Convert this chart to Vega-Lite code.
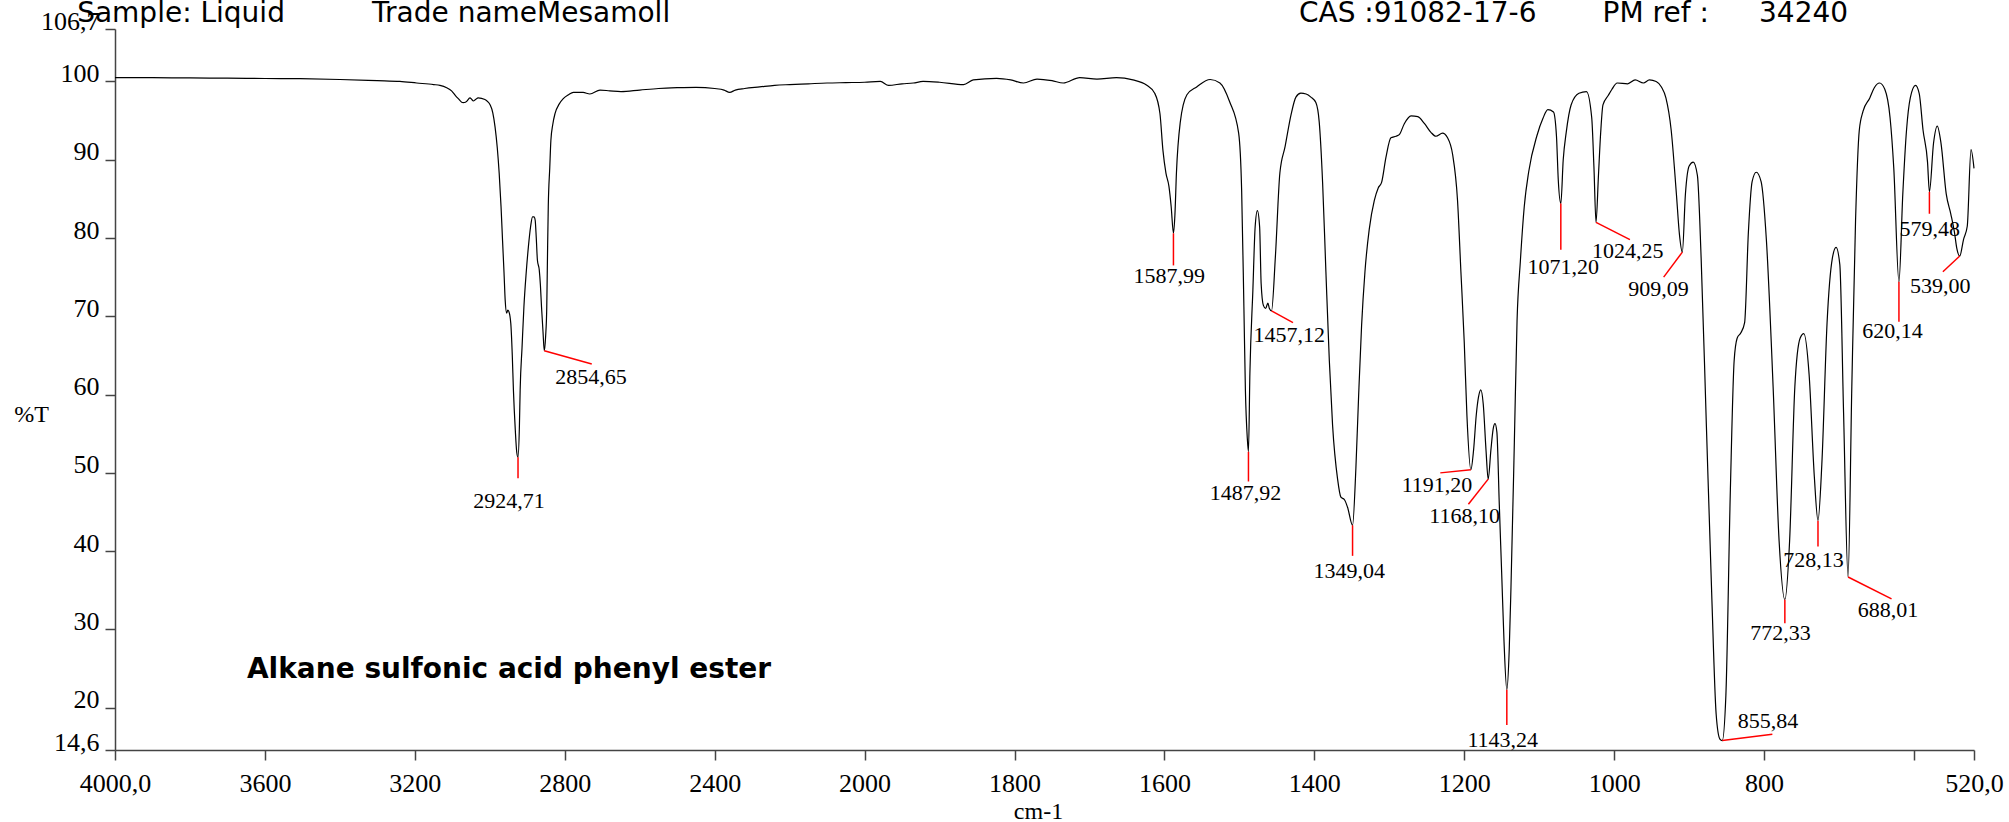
{
  "$schema": "https://vega.github.io/schema/vega-lite/v6.json",
  "width": 1859,
  "height": 721,
  "autosize": {"type": "none"},
  "padding": {"left": 115, "top": 29, "right": 35, "bottom": 72},
  "background": "white",
  "config": {"view": {"stroke": null}, "axis": {"labelFont": "Liberation Serif", "titleFont": "Liberation Serif"}},
  "datasets": {
    "spectrum": [
      {"wavenumber": 4000, "T": 100.5}, {"wavenumber": 3900, "T": 100.48}, {"wavenumber": 3800, "T": 100.45}, {"wavenumber": 3700, "T": 100.42},
      {"wavenumber": 3600, "T": 100.38}, {"wavenumber": 3506, "T": 100.35}, {"wavenumber": 3400, "T": 100.25}, {"wavenumber": 3300, "T": 100.1},
      {"wavenumber": 3240, "T": 100.0}, {"wavenumber": 3195, "T": 99.8}, {"wavenumber": 3150, "T": 99.6}, {"wavenumber": 3133, "T": 99.5},
      {"wavenumber": 3115, "T": 99.2}, {"wavenumber": 3102, "T": 98.8}, {"wavenumber": 3090, "T": 98.1}, {"wavenumber": 3084, "T": 97.8},
      {"wavenumber": 3075, "T": 97.35}, {"wavenumber": 3071, "T": 97.3}, {"wavenumber": 3065, "T": 97.35}, {"wavenumber": 3062, "T": 97.45},
      {"wavenumber": 3053, "T": 97.9}, {"wavenumber": 3048, "T": 97.7}, {"wavenumber": 3044, "T": 97.5}, {"wavenumber": 3038, "T": 97.7},
      {"wavenumber": 3031, "T": 97.9}, {"wavenumber": 3013, "T": 97.7}, {"wavenumber": 3005, "T": 97.4}, {"wavenumber": 2999, "T": 97.0},
      {"wavenumber": 2992, "T": 96.0}, {"wavenumber": 2986, "T": 94.2}, {"wavenumber": 2980, "T": 91.5}, {"wavenumber": 2975, "T": 88.3},
      {"wavenumber": 2970, "T": 84.0}, {"wavenumber": 2966, "T": 79.7}, {"wavenumber": 2962, "T": 75.5}, {"wavenumber": 2959, "T": 72.1},
      {"wavenumber": 2955, "T": 70.4}, {"wavenumber": 2952, "T": 70.8}, {"wavenumber": 2949, "T": 70.6}, {"wavenumber": 2944, "T": 69.1},
      {"wavenumber": 2940, "T": 65.0}, {"wavenumber": 2937, "T": 60.6}, {"wavenumber": 2932, "T": 55.5}, {"wavenumber": 2928, "T": 52.6},
      {"wavenumber": 2924.71, "T": 52.0}, {"wavenumber": 2921, "T": 56.0}, {"wavenumber": 2919, "T": 60.6}, {"wavenumber": 2914, "T": 66.0},
      {"wavenumber": 2909, "T": 71.2}, {"wavenumber": 2903, "T": 75.5}, {"wavenumber": 2897, "T": 78.9}, {"wavenumber": 2891, "T": 81.5},
      {"wavenumber": 2886, "T": 82.7}, {"wavenumber": 2882, "T": 82.7}, {"wavenumber": 2879, "T": 82.3}, {"wavenumber": 2876, "T": 80.0},
      {"wavenumber": 2873, "T": 77.2}, {"wavenumber": 2868, "T": 75.9}, {"wavenumber": 2865, "T": 74.0}, {"wavenumber": 2862, "T": 71.2},
      {"wavenumber": 2858, "T": 68.0}, {"wavenumber": 2854.65, "T": 65.6}, {"wavenumber": 2851, "T": 67.5}, {"wavenumber": 2848, "T": 71.2},
      {"wavenumber": 2846, "T": 78.0}, {"wavenumber": 2844, "T": 84.0}, {"wavenumber": 2840, "T": 89.0}, {"wavenumber": 2837, "T": 92.5},
      {"wavenumber": 2832, "T": 94.5}, {"wavenumber": 2826, "T": 95.9}, {"wavenumber": 2815, "T": 97.1}, {"wavenumber": 2804, "T": 97.8},
      {"wavenumber": 2790, "T": 98.3}, {"wavenumber": 2777, "T": 98.6}, {"wavenumber": 2751, "T": 98.6}, {"wavenumber": 2733, "T": 98.4},
      {"wavenumber": 2706, "T": 98.9}, {"wavenumber": 2680, "T": 98.8}, {"wavenumber": 2650, "T": 98.7}, {"wavenumber": 2600, "T": 98.9},
      {"wavenumber": 2550, "T": 99.1}, {"wavenumber": 2500, "T": 99.2}, {"wavenumber": 2450, "T": 99.25}, {"wavenumber": 2400, "T": 99.1},
      {"wavenumber": 2375, "T": 98.9}, {"wavenumber": 2360, "T": 98.6}, {"wavenumber": 2345, "T": 98.9}, {"wavenumber": 2320, "T": 99.1},
      {"wavenumber": 2280, "T": 99.3}, {"wavenumber": 2240, "T": 99.5}, {"wavenumber": 2200, "T": 99.6}, {"wavenumber": 2150, "T": 99.7},
      {"wavenumber": 2100, "T": 99.8}, {"wavenumber": 2050, "T": 99.85}, {"wavenumber": 2000, "T": 99.9}, {"wavenumber": 1979, "T": 100.0},
      {"wavenumber": 1968, "T": 99.5}, {"wavenumber": 1950, "T": 99.7}, {"wavenumber": 1935, "T": 99.8}, {"wavenumber": 1922, "T": 100.0},
      {"wavenumber": 1900, "T": 99.9}, {"wavenumber": 1868, "T": 99.6}, {"wavenumber": 1855, "T": 100.2}, {"wavenumber": 1824, "T": 100.4},
      {"wavenumber": 1805, "T": 100.2}, {"wavenumber": 1788, "T": 99.8}, {"wavenumber": 1770, "T": 100.3}, {"wavenumber": 1750, "T": 100.1},
      {"wavenumber": 1735, "T": 99.8}, {"wavenumber": 1713, "T": 100.5}, {"wavenumber": 1690, "T": 100.3}, {"wavenumber": 1664, "T": 100.5},
      {"wavenumber": 1642, "T": 100.2}, {"wavenumber": 1624, "T": 99.55}, {"wavenumber": 1613, "T": 98.5}, {"wavenumber": 1606, "T": 95.9},
      {"wavenumber": 1602, "T": 91.2}, {"wavenumber": 1598, "T": 88.3}, {"wavenumber": 1594, "T": 86.6}, {"wavenumber": 1591, "T": 84.0},
      {"wavenumber": 1587.99, "T": 80.6}, {"wavenumber": 1586, "T": 83.0}, {"wavenumber": 1584, "T": 88.3}, {"wavenumber": 1579, "T": 94.7},
      {"wavenumber": 1570, "T": 98.3}, {"wavenumber": 1557, "T": 99.3}, {"wavenumber": 1539, "T": 100.25}, {"wavenumber": 1526, "T": 99.8},
      {"wavenumber": 1513, "T": 97.4}, {"wavenumber": 1501, "T": 93.4}, {"wavenumber": 1497, "T": 86.1}, {"wavenumber": 1494, "T": 71.2},
      {"wavenumber": 1492, "T": 60.6}, {"wavenumber": 1489.5, "T": 54.5}, {"wavenumber": 1487.92, "T": 52.7}, {"wavenumber": 1486, "T": 62.7},
      {"wavenumber": 1482, "T": 73.4}, {"wavenumber": 1479, "T": 81.4}, {"wavenumber": 1476, "T": 83.5}, {"wavenumber": 1473, "T": 81.4},
      {"wavenumber": 1471, "T": 74.2}, {"wavenumber": 1468, "T": 71.4}, {"wavenumber": 1465, "T": 71.0}, {"wavenumber": 1462, "T": 71.7},
      {"wavenumber": 1460, "T": 71.0}, {"wavenumber": 1457.12, "T": 70.7}, {"wavenumber": 1452, "T": 77.6}, {"wavenumber": 1446, "T": 88.3},
      {"wavenumber": 1439, "T": 91.7}, {"wavenumber": 1431, "T": 95.8}, {"wavenumber": 1424.6, "T": 98.0}, {"wavenumber": 1418, "T": 98.5},
      {"wavenumber": 1411, "T": 98.4}, {"wavenumber": 1404.6, "T": 98.0}, {"wavenumber": 1398, "T": 97.3}, {"wavenumber": 1393.5, "T": 94.8},
      {"wavenumber": 1389, "T": 87.1}, {"wavenumber": 1384.6, "T": 75.7}, {"wavenumber": 1380, "T": 64.3}, {"wavenumber": 1375.7, "T": 56.1},
      {"wavenumber": 1369, "T": 49.2}, {"wavenumber": 1364.6, "T": 46.9}, {"wavenumber": 1360, "T": 46.6}, {"wavenumber": 1355.7, "T": 45.6},
      {"wavenumber": 1349.04, "T": 43.3}, {"wavenumber": 1344.6, "T": 50.6}, {"wavenumber": 1341, "T": 59.7}, {"wavenumber": 1337, "T": 68.8},
      {"wavenumber": 1332.5, "T": 75.7}, {"wavenumber": 1326.8, "T": 81.1}, {"wavenumber": 1320, "T": 84.8}, {"wavenumber": 1314.8, "T": 86.4},
      {"wavenumber": 1310.3, "T": 87.1}, {"wavenumber": 1304.5, "T": 90.3}, {"wavenumber": 1297.9, "T": 92.8}, {"wavenumber": 1291, "T": 93.0},
      {"wavenumber": 1286.7, "T": 93.2}, {"wavenumber": 1280, "T": 94.6}, {"wavenumber": 1271, "T": 95.6}, {"wavenumber": 1262, "T": 95.5},
      {"wavenumber": 1253, "T": 94.6}, {"wavenumber": 1244.5, "T": 93.5}, {"wavenumber": 1237.8, "T": 93.0}, {"wavenumber": 1229, "T": 93.4},
      {"wavenumber": 1222.3, "T": 92.8}, {"wavenumber": 1215.6, "T": 90.7}, {"wavenumber": 1209, "T": 84.8}, {"wavenumber": 1204.5, "T": 75.7},
      {"wavenumber": 1200, "T": 66.6}, {"wavenumber": 1196.5, "T": 57.4}, {"wavenumber": 1191.2, "T": 50.4}, {"wavenumber": 1187.6, "T": 52.9},
      {"wavenumber": 1184, "T": 57.4}, {"wavenumber": 1181, "T": 59.7}, {"wavenumber": 1178, "T": 60.6}, {"wavenumber": 1174.7, "T": 58.8},
      {"wavenumber": 1171, "T": 52.9}, {"wavenumber": 1168.1, "T": 49.2}, {"wavenumber": 1164.5, "T": 52.9}, {"wavenumber": 1161.5, "T": 55.6},
      {"wavenumber": 1159, "T": 56.3}, {"wavenumber": 1156.5, "T": 55.2}, {"wavenumber": 1153.3, "T": 46.0}, {"wavenumber": 1150, "T": 36.9},
      {"wavenumber": 1147, "T": 28.5}, {"wavenumber": 1143.24, "T": 22.3}, {"wavenumber": 1140, "T": 27.5}, {"wavenumber": 1137.7, "T": 35.4},
      {"wavenumber": 1133.2, "T": 53.9}, {"wavenumber": 1129.6, "T": 69.4}, {"wavenumber": 1125.2, "T": 77.0}, {"wavenumber": 1120, "T": 84.0},
      {"wavenumber": 1114, "T": 88.5}, {"wavenumber": 1103, "T": 93.1}, {"wavenumber": 1095, "T": 95.3}, {"wavenumber": 1088.5, "T": 96.4},
      {"wavenumber": 1081, "T": 96.1}, {"wavenumber": 1077, "T": 93.0}, {"wavenumber": 1074.6, "T": 87.4}, {"wavenumber": 1071.2, "T": 84.4},
      {"wavenumber": 1068, "T": 90.0}, {"wavenumber": 1064, "T": 93.5}, {"wavenumber": 1057.5, "T": 97.0}, {"wavenumber": 1047, "T": 98.5},
      {"wavenumber": 1037, "T": 98.7}, {"wavenumber": 1030, "T": 95.4}, {"wavenumber": 1027, "T": 89.0}, {"wavenumber": 1024.25, "T": 82.0},
      {"wavenumber": 1021, "T": 88.0}, {"wavenumber": 1018, "T": 93.5}, {"wavenumber": 1015, "T": 97.0}, {"wavenumber": 1008, "T": 98.2},
      {"wavenumber": 1003, "T": 99.0}, {"wavenumber": 996, "T": 99.8}, {"wavenumber": 982, "T": 99.7}, {"wavenumber": 972, "T": 100.2},
      {"wavenumber": 961, "T": 99.8}, {"wavenumber": 953, "T": 100.2}, {"wavenumber": 944, "T": 100.0}, {"wavenumber": 937, "T": 99.3},
      {"wavenumber": 931, "T": 97.9}, {"wavenumber": 924, "T": 93.8}, {"wavenumber": 917, "T": 85.6}, {"wavenumber": 913, "T": 80.5},
      {"wavenumber": 909.09, "T": 78.2}, {"wavenumber": 905, "T": 85.6}, {"wavenumber": 900, "T": 89.2}, {"wavenumber": 894.6, "T": 89.7},
      {"wavenumber": 889, "T": 88.0}, {"wavenumber": 884, "T": 77.4}, {"wavenumber": 877, "T": 56.0}, {"wavenumber": 870, "T": 34.8},
      {"wavenumber": 864, "T": 19.2}, {"wavenumber": 859, "T": 16.0}, {"wavenumber": 855.84, "T": 15.8}, {"wavenumber": 851, "T": 21.6},
      {"wavenumber": 845, "T": 47.9}, {"wavenumber": 840, "T": 64.3}, {"wavenumber": 836, "T": 67.2}, {"wavenumber": 831, "T": 67.9},
      {"wavenumber": 826, "T": 69.2}, {"wavenumber": 821, "T": 80.7}, {"wavenumber": 816, "T": 87.2}, {"wavenumber": 810.5, "T": 88.4},
      {"wavenumber": 804, "T": 87.2}, {"wavenumber": 797, "T": 79.8}, {"wavenumber": 788, "T": 61.0}, {"wavenumber": 780, "T": 41.3},
      {"wavenumber": 772.33, "T": 33.8}, {"wavenumber": 766, "T": 41.3}, {"wavenumber": 759, "T": 61.0}, {"wavenumber": 752, "T": 67.2},
      {"wavenumber": 747, "T": 67.8}, {"wavenumber": 740, "T": 62.6}, {"wavenumber": 733, "T": 49.5}, {"wavenumber": 728.13, "T": 43.9},
      {"wavenumber": 723, "T": 51.1}, {"wavenumber": 716, "T": 69.2}, {"wavenumber": 709, "T": 77.4}, {"wavenumber": 704, "T": 78.8},
      {"wavenumber": 699, "T": 76.6}, {"wavenumber": 694, "T": 57.7}, {"wavenumber": 688.01, "T": 36.7}, {"wavenumber": 683, "T": 61.0},
      {"wavenumber": 678, "T": 82.3}, {"wavenumber": 673, "T": 93.8}, {"wavenumber": 668, "T": 96.2}, {"wavenumber": 659, "T": 97.9},
      {"wavenumber": 653, "T": 99.2}, {"wavenumber": 646, "T": 99.8}, {"wavenumber": 639, "T": 99.0}, {"wavenumber": 632, "T": 95.4},
      {"wavenumber": 627, "T": 88.9}, {"wavenumber": 620.14, "T": 74.4}, {"wavenumber": 615, "T": 85.6}, {"wavenumber": 610, "T": 93.8},
      {"wavenumber": 605, "T": 97.9}, {"wavenumber": 598, "T": 99.5}, {"wavenumber": 593, "T": 98.4}, {"wavenumber": 588, "T": 93.8},
      {"wavenumber": 582, "T": 89.7}, {"wavenumber": 579.48, "T": 85.9}, {"wavenumber": 574, "T": 92.1}, {"wavenumber": 569, "T": 94.3},
      {"wavenumber": 564, "T": 92.1}, {"wavenumber": 557, "T": 85.6}, {"wavenumber": 551, "T": 83.1}, {"wavenumber": 546, "T": 80.7},
      {"wavenumber": 543, "T": 78.7}, {"wavenumber": 539, "T": 77.7}, {"wavenumber": 534, "T": 79.8}, {"wavenumber": 529, "T": 81.5},
      {"wavenumber": 524, "T": 91.3}, {"wavenumber": 520, "T": 88.9}
    ],
    "leaders": [
      {"wavenumber": 2924.71, "T": 52.0, "wavenumber2": 2924.71, "T2": 49.3},
      {"wavenumber": 2854.65, "T": 65.6, "wavenumber2": 2728, "T2": 63.9},
      {"wavenumber": 1587.99, "T": 80.6, "wavenumber2": 1587.99, "T2": 76.5},
      {"wavenumber": 1487.92, "T": 52.7, "wavenumber2": 1487.92, "T2": 48.9},
      {"wavenumber": 1457.12, "T": 70.7, "wavenumber2": 1428.5, "T2": 69.2},
      {"wavenumber": 1349.04, "T": 43.3, "wavenumber2": 1349.04, "T2": 39.4},
      {"wavenumber": 1191.2, "T": 50.4, "wavenumber2": 1232, "T2": 50.0},
      {"wavenumber": 1168.1, "T": 49.2, "wavenumber2": 1194.5, "T2": 46.0},
      {"wavenumber": 1143.24, "T": 22.3, "wavenumber2": 1143.24, "T2": 17.8},
      {"wavenumber": 855.84, "T": 15.8, "wavenumber2": 789, "T2": 16.6},
      {"wavenumber": 1071.2, "T": 84.4, "wavenumber2": 1071.2, "T2": 78.5},
      {"wavenumber": 1024.25, "T": 82.0, "wavenumber2": 979, "T2": 79.8},
      {"wavenumber": 909.09, "T": 78.2, "wavenumber2": 934, "T2": 75.0},
      {"wavenumber": 772.33, "T": 33.8, "wavenumber2": 772.33, "T2": 30.8},
      {"wavenumber": 728.13, "T": 43.9, "wavenumber2": 728.13, "T2": 40.6},
      {"wavenumber": 688.01, "T": 36.7, "wavenumber2": 630, "T2": 33.9},
      {"wavenumber": 620.14, "T": 74.4, "wavenumber2": 620.14, "T2": 69.3},
      {"wavenumber": 579.48, "T": 85.9, "wavenumber2": 579.48, "T2": 83.1},
      {"wavenumber": 539.0, "T": 77.7, "wavenumber2": 561.5, "T2": 75.7}
    ],
    "peakLabels": [
      {"wavenumber": 2949, "T": 45.5, "label": "2924,71"},
      {"wavenumber": 2730, "T": 61.3, "label": "2854,65"},
      {"wavenumber": 1593.5, "T": 74.2, "label": "1587,99"},
      {"wavenumber": 1492, "T": 46.5, "label": "1487,92"},
      {"wavenumber": 1433.6, "T": 66.7, "label": "1457,12"},
      {"wavenumber": 1353.5, "T": 36.6, "label": "1349,04"},
      {"wavenumber": 1236.4, "T": 47.5, "label": "1191,20"},
      {"wavenumber": 1199.5, "T": 43.65, "label": "1168,10"},
      {"wavenumber": 1148.7, "T": 15.0, "label": "1143,24"},
      {"wavenumber": 794.8, "T": 17.4, "label": "855,84"},
      {"wavenumber": 1067.8, "T": 75.4, "label": "1071,20"},
      {"wavenumber": 982, "T": 77.4, "label": "1024,25"},
      {"wavenumber": 940.9, "T": 72.6, "label": "909,09"},
      {"wavenumber": 778, "T": 28.65, "label": "772,33"},
      {"wavenumber": 734, "T": 38.0, "label": "728,13"},
      {"wavenumber": 634.8, "T": 31.6, "label": "688,01"},
      {"wavenumber": 628.7, "T": 67.2, "label": "620,14"},
      {"wavenumber": 579, "T": 80.3, "label": "579,48"},
      {"wavenumber": 565, "T": 73.0, "label": "539,00"}
    ],
    "header": [
      {"wavenumber": 4101, "T": 107.6, "label": "Sample: Liquid"},
      {"wavenumber": 3314, "T": 107.6, "label": "Trade nameMesamoll"},
      {"wavenumber": 1420.5, "T": 107.6, "label": "CAS :91082-17-6"},
      {"wavenumber": 1015.5, "T": 107.6, "label": "PM ref :"},
      {"wavenumber": 806.8, "T": 107.6, "label": "34240"}
    ],
    "note": [
      {"wavenumber": 3648, "T": 23.8, "label": "Alkane sulfonic acid phenyl ester"}
    ]
  },
  "encoding": {
    "x": {
      "field": "wavenumber",
      "type": "quantitative",
      "scale": {"domain": [4000, 2000, 520], "range": [0, 749.6, 1859], "nice": false, "zero": false},
      "axis": {
        "title": "cm-1",
        "titleFont": "Liberation Serif",
        "titleFontSize": 24,
        "titleFontWeight": "normal",
        "titleColor": "black",
        "titleX": 923,
        "titleY": 68,
        "titleAlign": "center",
        "titleBaseline": "alphabetic",
        "values": [4000, 3600, 3200, 2800, 2400, 2000, 1800, 1600, 1400, 1200, 1000, 800, 600, 520],
        "format": "d",
        "labelExpr": "datum.value == 4000 ? '4000,0' : datum.value == 520 ? '520,0' : datum.value == 600 ? '' : datum.label",
        "labelFont": "Liberation Serif",
        "labelFontSize": 26,
        "labelColor": "black",
        "labelBaseline": "alphabetic",
        "labelPadding": 31,
        "labelOverlap": false,
        "labelFlush": false,
        "labelBound": false,
        "tickSize": 10,
        "tickWidth": 1.5,
        "tickColor": "#444444",
        "domainColor": "#444444",
        "domainWidth": 1.5,
        "grid": false
      }
    },
    "y": {
      "field": "T",
      "type": "quantitative",
      "scale": {"domain": [14.6, 106.7], "nice": false, "zero": false},
      "axis": {
        "title": "%T",
        "titleFont": "Liberation Serif",
        "titleFontSize": 24,
        "titleFontWeight": "normal",
        "titleColor": "black",
        "titleAngle": 0,
        "titleX": -84,
        "titleY": 392,
        "titleAlign": "center",
        "titleBaseline": "alphabetic",
        "values": [14.6, 20, 30, 40, 50, 60, 70, 80, 90, 100, 106.7],
        "format": "d",
        "labelExpr": "datum.value == 14.6 ? '14,6' : datum.value == 106.7 ? '106,7' : datum.label",
        "labelFont": "Liberation Serif",
        "labelFontSize": 26,
        "labelColor": "black",
        "labelBaseline": "alphabetic",
        "labelPadding": 6,
        "labelOverlap": false,
        "labelFlush": false,
        "labelBound": false,
        "tickSize": 10,
        "tickWidth": 1.5,
        "tickColor": "#444444",
        "domainColor": "#444444",
        "domainWidth": 1.5,
        "grid": false
      }
    }
  },
  "layer": [
    {
      "data": {"name": "spectrum"},
      "mark": {"type": "line", "color": "black", "strokeWidth": 1.2, "interpolate": "monotone"}
    },
    {
      "data": {"name": "leaders"},
      "mark": {"type": "rule", "color": "#ff0000", "strokeWidth": 1.5},
      "encoding": {
        "x2": {"field": "wavenumber2"},
        "y2": {"field": "T2"}
      }
    },
    {
      "data": {"name": "peakLabels"},
      "mark": {"type": "text", "font": "Liberation Serif", "fontSize": 22, "align": "center", "baseline": "alphabetic", "color": "black"},
      "encoding": {"text": {"field": "label"}}
    },
    {
      "data": {"name": "header"},
      "mark": {"type": "text", "font": "DejaVu Sans", "fontSize": 28, "align": "left", "baseline": "alphabetic", "color": "black"},
      "encoding": {"text": {"field": "label"}}
    },
    {
      "data": {"name": "note"},
      "mark": {"type": "text", "font": "DejaVu Sans", "fontSize": 28, "fontWeight": "bold", "align": "left", "baseline": "alphabetic", "color": "black"},
      "encoding": {"text": {"field": "label"}}
    }
  ]
}
